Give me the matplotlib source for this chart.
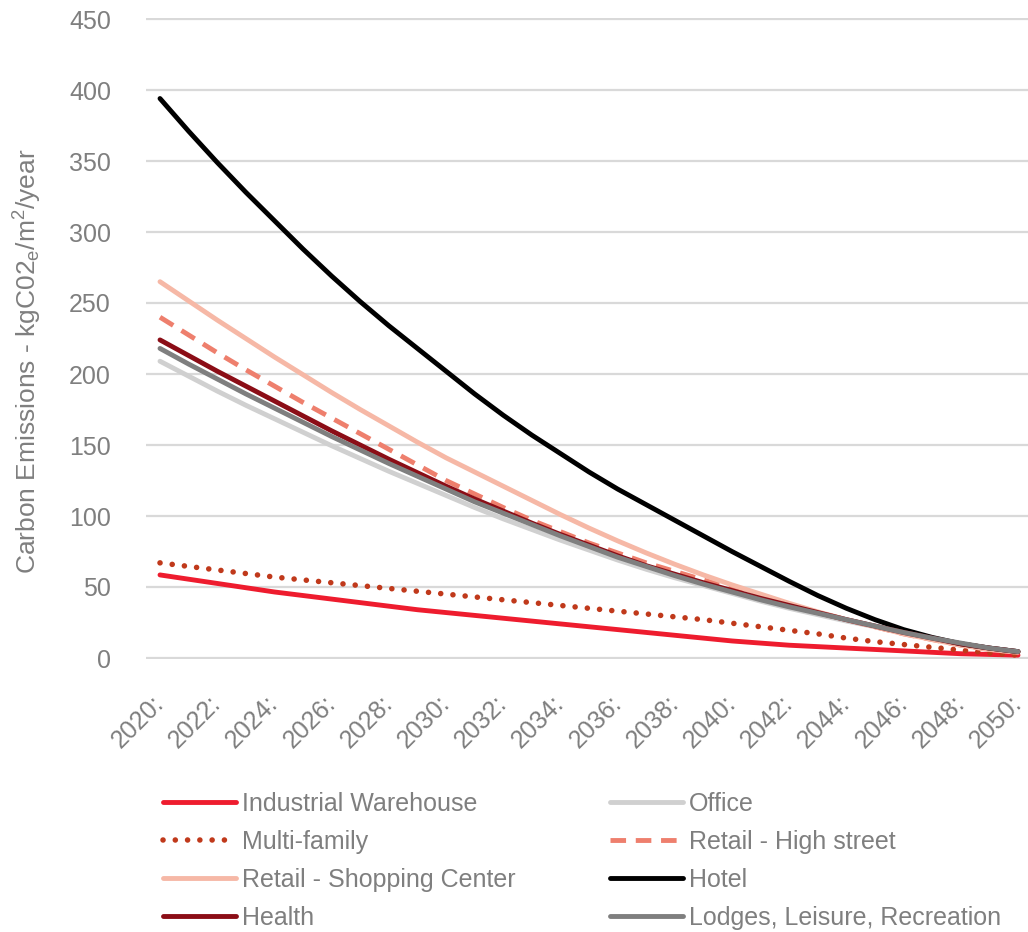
import matplotlib
matplotlib.use("Agg")
import matplotlib.pyplot as plt
from matplotlib import font_manager

# ---- data -------------------------------------------------------------
years = list(range(2020, 2051))

industrial_warehouse = [58.5, 55.5, 52.5, 49.5, 46.5, 44, 41.5, 39, 36.5, 34, 32, 30, 28, 26, 24,
                        22, 20, 18, 16, 14, 12, 10.5, 9, 8, 7, 6, 5, 4, 3, 2.5, 2]
office = [209, 198.5, 188, 178, 168.5, 159, 149.5, 140.5, 131.5, 123, 114.5, 106, 98, 90.5, 83,
          76, 69, 62.5, 56.5, 51, 45.5, 40, 35, 30.5, 26, 22, 17.5, 13.5, 10, 7, 4.5]
multi_family = [67, 64.5, 62, 59.5, 57, 55, 53, 51, 49, 47, 45, 43, 41, 39, 37,
                35, 33, 31, 29, 27, 24.5, 22, 19.5, 17, 14, 11.5, 9.5, 7.5, 5.5, 3.5, 2]
retail_high_street = [240, 227.5, 215, 203, 191.5, 180, 169, 158, 147, 136, 125, 115.5, 106, 97, 89,
                      81, 74, 67, 61, 55, 49, 43, 37.5, 32, 27, 22, 17, 13, 9, 6, 4]
retail_shopping_center = [265, 251.5, 238, 225, 212, 199.5, 187, 175, 163.5, 152, 141, 131, 121, 111, 101,
                          91.5, 82.5, 74, 66, 58.5, 51.5, 45, 38.5, 32.5, 27, 22, 17, 13, 9, 6, 4]
hotel = [394, 371, 349, 328, 308, 288, 269, 251, 234, 218, 202, 186, 171, 157, 144,
         131, 119, 108, 97, 86, 75, 64.5, 54, 44, 35, 27, 20, 14.5, 10, 7, 4.5]
health = [224, 213, 202, 191.5, 181, 170.5, 160, 150, 140, 130.5, 121, 112, 103.5, 95, 87,
          79.5, 72, 65, 59, 53, 47.5, 42, 37, 32, 27, 22.5, 18, 14, 10, 7, 4.5]
lodges_leisure_recreation = [218, 207, 196.5, 186, 176, 166, 156, 146.5, 137, 128, 119, 110, 102, 94, 86,
                             78.5, 71, 64.5, 58, 52, 46.5, 41, 36, 31.5, 27, 22.5, 18, 14, 10.5, 7, 4.5]

tick_years = list(range(2020, 2051, 2))
tick_labels = [f"{y}:" for y in tick_years]
y_ticks = list(range(0, 451, 50))

# ---- fonts ------------------------------------------------------------
available = {f.name for f in font_manager.fontManager.ttflist}
base_font = "Liberation Sans" if "Liberation Sans" in available else "DejaVu Sans"
plt.rcParams["font.family"] = [base_font, "DejaVu Sans"]
plt.rcParams["mathtext.fontset"] = "custom"
plt.rcParams["mathtext.rm"] = base_font
plt.rcParams["mathtext.it"] = base_font
plt.rcParams["mathtext.bf"] = base_font

GREY_TEXT = "#7f7f7f"
GRID = "#d9d9d9"
FS = 18

W, H = 1028, 932
fig = plt.figure(figsize=(W / 100, H / 100), dpi=100)

# axes placed in pixel coordinates of the figure
px_per_unit = 639 / 450.0
y0, y1 = -1.0, 451.0
ax_top_px = 19 - (y1 - 450) * px_per_unit
ax_bot_px = 658 + (0 - y0) * px_per_unit
ax_left_px, ax_right_px = 145.7, 1028
ax = fig.add_axes([ax_left_px / W, 1 - ax_bot_px / H,
                   (ax_right_px - ax_left_px) / W, (ax_bot_px - ax_top_px) / H])

px_per_year = (1018 - 160) / 30.0
ax.set_xlim(2019.5, 2019.5 + (ax_right_px - ax_left_px) / px_per_year)
ax.set_ylim(y0, y1)

series = [
    ("Industrial Warehouse", industrial_warehouse, "#ee1c2e", "-", "butt", 3.5),
    ("Office", office, "#d0d0d0", "-", "butt", 3.5),
    ("Multi-family", multi_family, "#c0391b", (0, (0.01, 2.2)), "round", 4.0),
    ("Retail - High street", retail_high_street, "#ee7f6d", (0, (3.2, 2.0)), "butt", 3.5),
    ("Retail - Shopping Center", retail_shopping_center, "#f6b8a6", "-", "butt", 3.5),
    ("Hotel", hotel, "#000000", "-", "butt", 3.5),
    ("Health", health, "#8b0d16", "-", "butt", 3.5),
    ("Lodges, Leisure, Recreation", lodges_leisure_recreation, "#7f7f7f", "-", "butt", 3.5),
]

handles = {}
for name, vals, color, ls, cap, lw in series:
    line, = ax.plot(years, vals, color=color, linestyle=ls, lw=lw,
                    solid_capstyle="round", dash_capstyle=cap, label=name)
    handles[name] = line

# gridlines / axes styling
ax.set_yticks(y_ticks)
ax.yaxis.grid(True, color=GRID, lw=1.6)
ax.set_axisbelow(True)
for s in ax.spines.values():
    s.set_visible(False)
ax.tick_params(axis="y", length=0, pad=25, labelsize=FS, labelcolor=GREY_TEXT)
ax.set_xticks(tick_years)
ax.set_xticklabels(tick_labels, rotation=45, ha="right", va="center",
                   rotation_mode="anchor")
ax.tick_params(axis="x", length=0, pad=29, labelsize=FS, labelcolor=GREY_TEXT)

fig.text(28 / W, 1 - 361 / H, r"Carbon Emissions - kgC02$_\mathregular{e}$/m$^\mathregular{2}$/year",
         rotation=90, ha="center", va="center", fontsize=19, color=GREY_TEXT)

order = ["Industrial Warehouse", "Multi-family", "Retail - Shopping Center", "Health",
         "Office", "Retail - High street", "Hotel", "Lodges, Leisure, Recreation"]
leg = fig.legend([handles[n] for n in order], order, ncol=2, frameon=False,
                 loc="upper left", bbox_to_anchor=(163 / W, 1 - 792 / H),
                 fontsize=FS, handlelength=2.9, handletextpad=0.25,
                 columnspacing=3.8, labelspacing=0.56, borderpad=0, borderaxespad=0)
for t in leg.get_texts():
    t.set_color(GREY_TEXT)

fig.savefig("out.png", dpi=100)
